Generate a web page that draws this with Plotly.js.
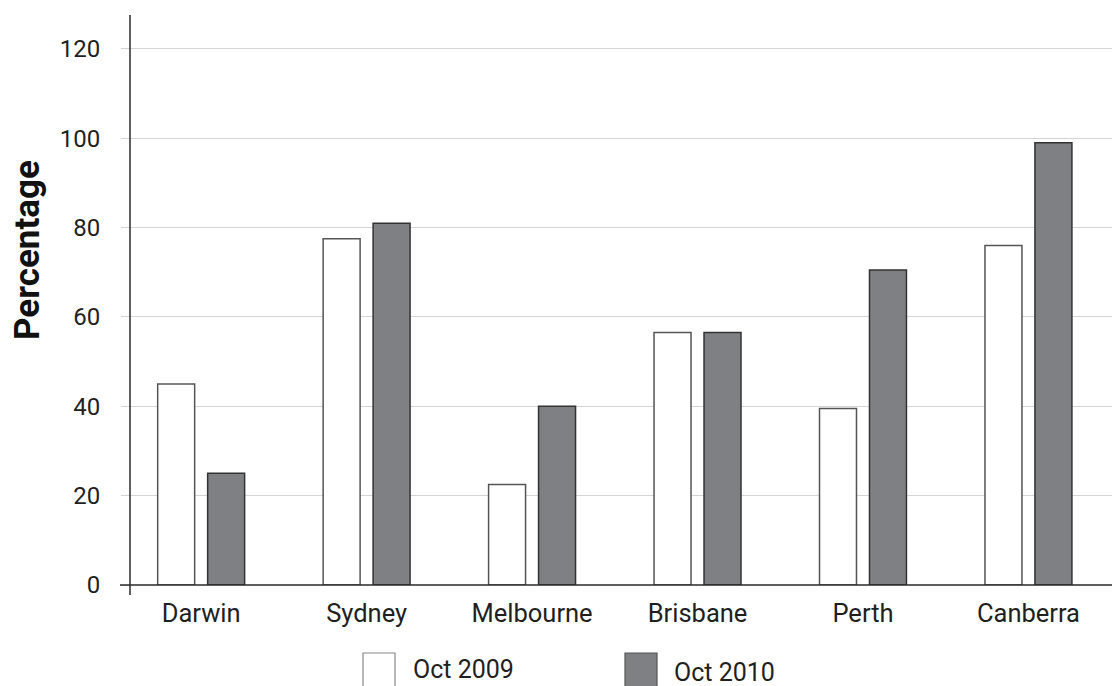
<!DOCTYPE html>
<html>
<head>
<meta charset="utf-8">
<script src="https://cdn.plot.ly/plotly-3.0.1.min.js"></script>
<style>
  html, body { margin: 0; padding: 0; background: #ffffff; }
  #chart { width: 1112px; height: 686px; }
</style>
</head>
<body>
<div id="chart"></div>
<script>
// ---- Data ----
const cities = ["Darwin", "Sydney", "Melbourne", "Brisbane", "Perth", "Canberra"];
const seriesNames = ["Oct 2009", "Oct 2010"];
const oct2009 = [45, 77.5, 22.5, 56.5, 39.5, 76];
const oct2010 = [25, 81, 40, 56.5, 70.5, 99];
const yTickVals = [0, 20, 40, 60, 80, 100, 120];
const yTickText = ["0", "20", "40", "60", "80", "100", "120"];
const yTitle = "Percentage";

// ---- Styles ----
const FONT = "Roboto, 'Noto Sans', sans-serif";
const TXT = "#1f1f1f";
const GRAY = "#7f8083";

const traces = [
  {
    type: "bar", name: seriesNames[0], x: cities, y: oct2009,
    marker: { color: "#ffffff", line: { color: "#555555", width: 1.5 } },
    showlegend: false, hoverinfo: "x+y+name"
  },
  {
    type: "bar", name: seriesNames[1], x: cities, y: oct2010,
    marker: { color: GRAY, line: { color: "#333333", width: 1.5 } },
    showlegend: false, hoverinfo: "x+y+name"
  }
];

const layout = {
  width: 1112, height: 686,
  margin: { l: 130, r: 0, t: 15, b: 101, pad: 0 },
  paper_bgcolor: "#ffffff", plot_bgcolor: "#ffffff",
  font: { family: FONT, color: TXT, size: 24 },
  barmode: "group",
  bargap: 0.396,
  bargroupgap: 0.26,
  xaxis: {
    type: "category",
    range: [-0.43, 5.505],
    showline: false, showgrid: false, zeroline: false,
    ticks: "",
    tickfont: { family: FONT, size: 25.5, color: TXT },
    ticklabelstandoff: 10,
    fixedrange: true
  },
  yaxis: {
    range: [0, 127.6],
    tickvals: yTickVals, ticktext: yTickText,
    showgrid: true, gridcolor: "#d4d4d4", gridwidth: 1,
    zeroline: false, showline: false,
    ticks: "outside", ticklen: 8, tickcolor: "#d4d4d4", tickwidth: 1,
    tickfont: { family: FONT, size: 24, color: TXT },
    ticklabelstandoff: 16,
    fixedrange: true
  },
  shapes: [
    // x axis line (extends left past y axis)
    { type: "line", xref: "paper", yref: "paper", x0: -10 / 982, x1: 1, y0: 0, y1: 0,
      line: { color: "#2a2a2a", width: 1.5 } },
    // y axis line (extends below x axis)
    { type: "line", xref: "paper", yref: "paper", x0: 0, x1: 0, y0: -10 / 570, y1: 1,
      line: { color: "#2a2a2a", width: 1.5 } },
    // legend boxes
    { type: "rect", xref: "paper", yref: "paper",
      x0: 233 / 982, x1: 265 / 982, y0: -130 / 570, y1: -68 / 570,
      fillcolor: "#ffffff", line: { color: "#8a8a8a", width: 1.2 } },
    { type: "rect", xref: "paper", yref: "paper",
      x0: 495 / 982, x1: 527 / 982, y0: -130 / 570, y1: -68 / 570,
      fillcolor: GRAY, line: { color: "#555555", width: 1.2 } }
  ],
  annotations: [
    { text: "<b>" + yTitle + "</b>", xref: "paper", yref: "paper",
      x: -102 / 982, y: (585 - 250) / 570, textangle: -90,
      xanchor: "center", yanchor: "middle", showarrow: false,
      font: { family: FONT, size: 35, color: "#111111" } },
    { text: seriesNames[0], xref: "paper", yref: "paper",
      x: 281 / 982, y: -84 / 570, xanchor: "left", yanchor: "middle", showarrow: false,
      font: { family: FONT, size: 25, color: TXT } },
    { text: seriesNames[1], xref: "paper", yref: "paper",
      x: 542 / 982, y: -87 / 570, xanchor: "left", yanchor: "middle", showarrow: false,
      font: { family: FONT, size: 25, color: TXT } }
  ]
};

Plotly.newPlot("chart", traces, layout, { displayModeBar: false, staticPlot: true });
</script>
</body>
</html>
